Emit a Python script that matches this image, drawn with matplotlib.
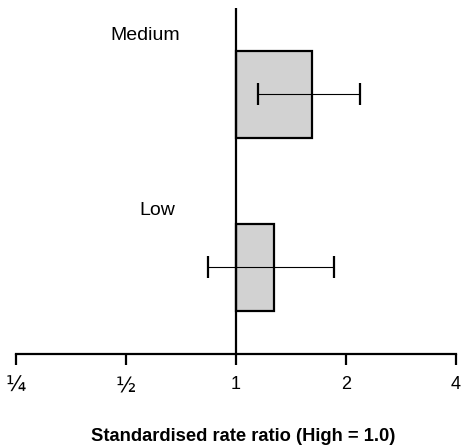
import matplotlib
matplotlib.use("Agg")
import matplotlib.pyplot as plt

plt.rcParams['font.family'] = ['Liberation Sans', 'DejaVu Sans']

# Data
categories = ["Low", "Medium"]
rate_ratio = [1.27, 1.61]
ci_lower = [0.84, 1.15]
ci_upper = [1.85, 2.18]
tick_values = [0.25, 0.5, 1, 2, 4]
tick_labels = ["\u00bc", "\u00bd", "1", "2", "4"]

ypos = [0.5, 1.5]
label_pos = {"Medium": (0.565, 1.84), "Low": (0.61, 0.83)}

fig = plt.figure(figsize=(4.61, 4.45), dpi=100)
ax = fig.add_axes([0.035, 0.2045, 0.954, 0.778])

ax.set_xscale('log', base=2)
ax.set_xlim(0.25, 4)
ax.set_ylim(0, 2.0)

# bars start at 1 (reference level)
widths = [r - 1 for r in rate_ratio]
ax.barh(ypos, widths, left=1, height=0.5, color='#d2d2d2',
        edgecolor='black', linewidth=1.6, zorder=2)

xerr = [[r - lo for r, lo in zip(rate_ratio, ci_lower)],
        [hi - r for r, hi in zip(rate_ratio, ci_upper)]]
ax.errorbar(rate_ratio, ypos, xerr=xerr, fmt='none', ecolor='black',
            elinewidth=0.8, capsize=8, capthick=1.6, zorder=3)

ax.axvline(1, color='black', linewidth=1.6, zorder=4)

for lab in categories:
    x, y = label_pos[lab]
    ax.text(x, y, lab, ha='center', va='center', fontsize=14)

for s in ['top', 'right', 'left']:
    ax.spines[s].set_visible(False)
ax.spines['bottom'].set_linewidth(1.6)
ax.set_yticks([])
ax.set_xticks(tick_values)
ax.set_xticklabels(tick_labels, fontsize=13)
for t in ax.get_xticklabels()[:2]:
    t.set_fontsize(15)
    t.set_family(['DejaVu Sans'])
ax.minorticks_off()
ax.tick_params(axis='x', direction='out', length=8, width=1.6, pad=8)

fig.text(0.527, 0.02, "Standardised rate ratio (High = 1.0)", fontsize=13.2,
         fontweight='bold', ha='center', va='center')

fig.savefig("out.png", dpi=100)
